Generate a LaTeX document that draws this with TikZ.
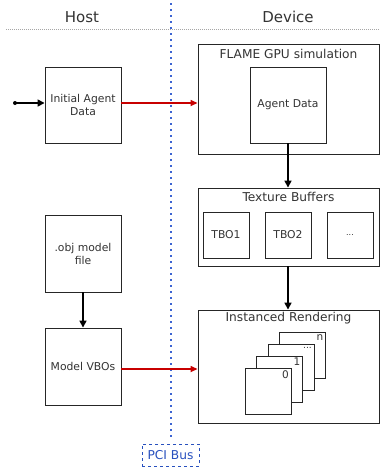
\documentclass[tikz,border=0pt]{standalone}
\usepackage{fontspec}
\setmainfont{DejaVu Sans}
\usetikzlibrary{arrows.meta}
\definecolor{busblue}{RGB}{40,80,190}
\definecolor{dotblue}{RGB}{60,100,210}
\definecolor{redarrow}{RGB}{200,0,0}
\begin{document}
\begin{tikzpicture}[x=1pt,y=-1pt,
  box/.style={draw=black!85,line width=0.9pt,fill=white,inner sep=0pt,align=center,font=\fontsize{10.8}{13}\selectfont,text=black!80},
  bigbox/.style={draw=black!85,line width=0.9pt,inner sep=0pt,minimum width=181pt},
  title/.style={font=\fontsize{12.2}{14}\selectfont,text=black!80},
  blk/.style={-{Triangle[length=7pt,width=7pt]},line width=1.6pt},
  redarr/.style={-{Triangle[length=7pt,width=6pt]},line width=1.6pt,draw=redarrow,fill=redarrow},
  small/.style={minimum width=46pt,minimum height=46pt},
  big/.style={minimum width=76pt,minimum height=76pt},
  cardlbl/.style={font=\fontsize{10.5}{12}\selectfont,text=black!80,anchor=north east,inner sep=2.5pt}]
\useasboundingbox (0,0) rectangle (380,467);
% headers
\node[font=\fontsize{15}{18}\selectfont,text=black!80] (host) at (82,17) {Host};
\node[font=\fontsize{15}{18}\selectfont,text=black!80] (dev) at (288,17) {Device};
\coordinate (hl) at (6,29);
\coordinate (hr) at (380,29);
\draw[black!35,line width=0.6pt,dash pattern=on 0.8pt off 1.2pt] (hl) -- (hr);
% bus line
\coordinate (bt) at (171,3);
\node[draw=busblue,dashed,line width=0.8pt,minimum width=57pt,minimum height=22pt,inner sep=0pt,text=busblue,font=\fontsize{12.2}{14}\selectfont] (pci) at (170.5,455) {PCI Bus};
\coordinate (bb) at (171,437);
\draw[draw=dotblue,line width=1.1pt,dash pattern=on 2.2pt off 3.8pt] (bt) -- (bb);
% host boxes
\node[box,big] (init) at (83,105) {Initial Agent\\Data};
\node[box,minimum width=76pt,minimum height=77pt] (obj) at (83,253.5) {.obj model\\file};
\node[box,minimum width=76pt,minimum height=77pt] (vbo) at (83,366.5) {Model VBOs};
% device boxes
\node[bigbox,minimum height=110pt] (flame) at (288.5,99) {};
\node[title,anchor=center] (flamet) at (288.5,54) {FLAME GPU simulation};
\node[box,big] (agent) at (288,105) {Agent Data};
\node[bigbox,minimum height=78pt] (tb) at (288.5,227) {};
\node[title] (tbt) at (288.5,197) {Texture Buffers};
\node[box,small] (tbo1) at (226,235) {TBO1};
\node[box,small] (tbo2) at (288,235) {TBO2};
\node[box,small] (tbo3) at (350,235) {\fontsize{8}{10}\selectfont\raisebox{1pt}{...}};
\node[bigbox,minimum height=113pt] (ir) at (288.5,366.5) {};
\node[title] (irt) at (288.5,318) {Instanced Rendering};
\node[box,small] (cn) at (302.5,355.5) {};
\node[box,small] (cd) at (291,367) {};
\node[box,small] (c1) at (279.5,379) {};
\node[box,small] (c0) at (268,391) {};
\node[cardlbl] (ln) at (cn.north east) {n};
\node[cardlbl,font=\fontsize{9}{10}\selectfont] (ld) at ([yshift=-1pt]cd.north east) {...};
\node[cardlbl] (l1) at (c1.north east) {1};
\node[cardlbl] (l0) at (c0.north east) {0};
% connectors
\coordinate (src) at (15,103);
\coordinate (ia) at ([yshift=2pt]init.east);
\coordinate (va) at ([yshift=-2.5pt]vbo.east);
\fill (src) circle (2pt);
\draw[blk] (src) -- (init.west |- src);
\draw[redarr] (ia) -- (flame.west |- ia);
\draw[redarr] (va) -- (ir.west |- va);
\draw[blk] (agent.south) -- (tb.north -| agent.south);
\draw[blk] (tb.south -| agent.south) -- (ir.north -| agent.south);
\draw[blk] (obj.south) -- (vbo.north);
\end{tikzpicture}
\end{document}
